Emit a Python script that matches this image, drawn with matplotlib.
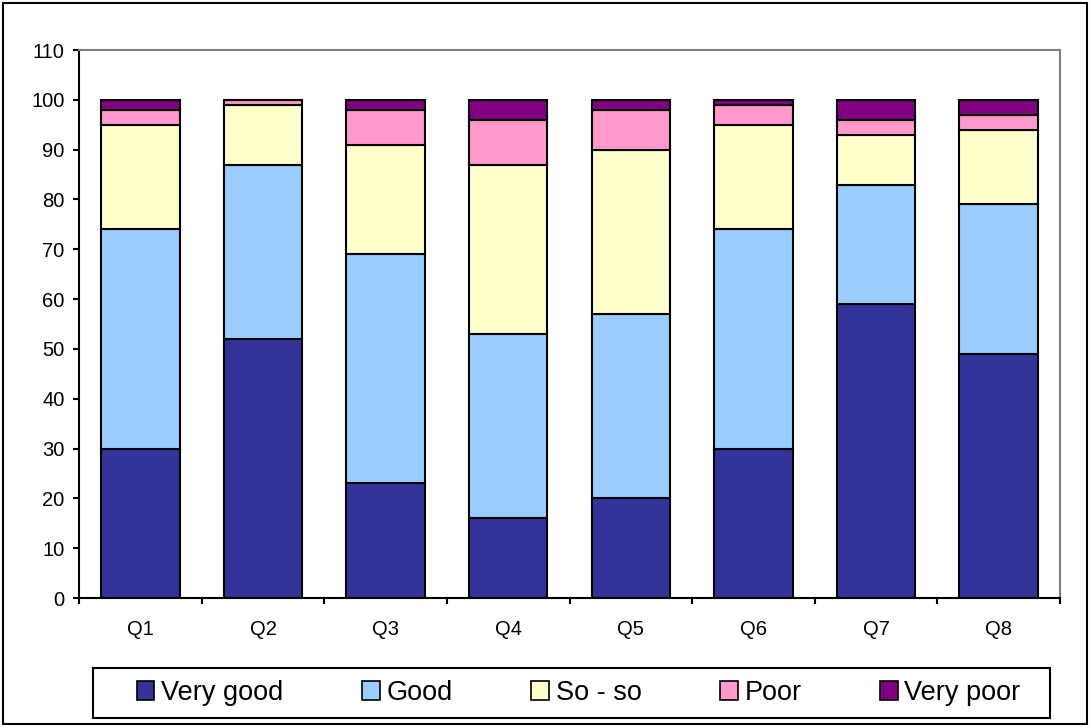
import matplotlib.pyplot as plt
from matplotlib.patches import Rectangle
import numpy as np

plt.rcParams["font.family"] = ["Liberation Sans", "DejaVu Sans"]

questions = ["Q1", "Q2", "Q3", "Q4", "Q5", "Q6", "Q7", "Q8"]
very_good = [30, 52, 23, 16, 20, 30, 59, 49]
good = [44, 35, 46, 37, 37, 44, 24, 30]
so_so = [21, 12, 22, 34, 33, 21, 10, 15]
poor = [3, 1, 7, 9, 8, 4, 3, 3]
very_poor = [2, 0, 2, 4, 2, 1, 4, 3]

series = [
    ("Very good", very_good, "#333399"),
    ("Good", good, "#99CCFF"),
    ("So - so", so_so, "#FFFFCC"),
    ("Poor", poor, "#FF99CC"),
    ("Very poor", very_poor, "#800080"),
]

fig = plt.figure(figsize=(10.9, 7.27), dpi=100)
ax = fig.add_axes([0.0725, 0.1774, 0.9, 0.7538])

x = np.arange(len(questions))
bottom = np.zeros(len(questions))
for label, vals, color in series:
    ax.bar(x, vals, width=0.64, bottom=bottom, color=color,
           edgecolor="black", linewidth=1.5, label=label)
    bottom += np.array(vals)

ax.set_xlim(-0.5, len(questions) - 0.5)
ax.set_ylim(0, 110)
ax.set_yticks(range(0, 111, 10))
ax.set_xticks(x)
ax.set_xticklabels(questions)
ax.set_xticks(np.arange(-0.5, len(questions)), minor=True)
ax.tick_params(axis="x", which="major", length=0, pad=16, labelsize=14.5)
ax.tick_params(axis="x", which="minor", length=4.5, width=1.5, direction="out")
ax.tick_params(axis="y", length=4.5, width=1.5, direction="out", labelsize=14.5, pad=6)

ax.spines["left"].set_linewidth(1.5)
ax.spines["bottom"].set_linewidth(1.5)
ax.spines["top"].set_color("#808080")
ax.spines["right"].set_color("#808080")
ax.spines["top"].set_linewidth(1.5)
ax.spines["right"].set_linewidth(1.5)

# legend box drawn separately, entries centred inside
fig.patches.append(Rectangle((93 / 1090, 1 - 718 / 727), 957 / 1090, 50 / 727,
                             transform=fig.transFigure, fill=False,
                             edgecolor="black", linewidth=1.5))
leg = fig.legend(loc="center", bbox_to_anchor=(0.531, 1 - 693 / 727),
                 ncol=5, frameon=False, fontsize=19.5, handlelength=0.65,
                 handleheight=0.65, handletextpad=0.25, columnspacing=2.9,
                 borderpad=0)
for h in leg.legend_handles:
    h.set_linewidth(1.2)

fig.patches.append(Rectangle((0.003, 0.004), 0.994, 0.992, transform=fig.transFigure,
                             fill=False, edgecolor="black", linewidth=1.5))

fig.savefig("out.png", dpi=100)
